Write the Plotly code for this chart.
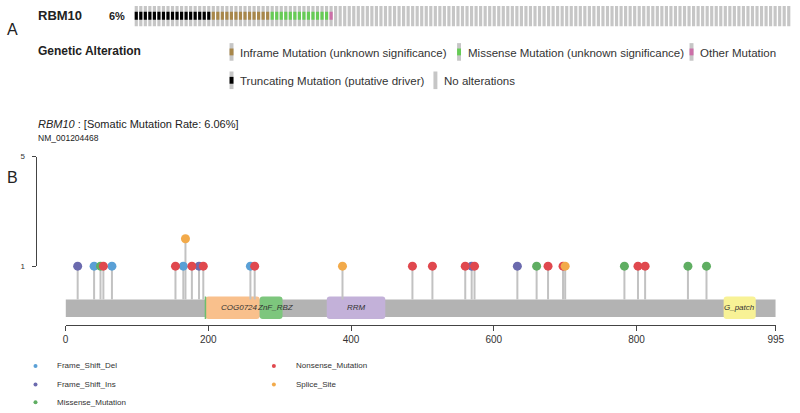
import plotly.graph_objects as go

W, H = 800, 413

# ---------------- data ----------------
gene = "RBM10"
altered_pct = "6%"
mutation_rate = "6.06%"
transcript = "NM_001204468"
protein_length = 995

# oncoprint strip (visible part): samples per alteration class, then unaltered
onco_classes = ["Truncating", "Inframe", "Missense", "Other"]
onco_counts = [17, 13, 13, 1]
onco_visible_samples = 145

onco_legend_labels = ["Inframe Mutation (unknown significance)",
                      "Missense Mutation (unknown significance)",
                      "Other Mutation",
                      "Truncating Mutation (putative driver)",
                      "No alterations"]

domain_names = ["COG0724", "ZnF_RBZ", "RRM", "G_patch"]
domain_start = [196, 272, 366, 922]
domain_end = [272, 304, 448, 967]

mut_pos = [17, 40, 49, 53, 65, 154, 165, 168, 177, 187, 193, 259, 265,
           388, 486, 514, 560, 569, 573, 633, 660, 676, 697, 700,
           783, 802, 812, 872, 898]
mut_type = ["Frame_Shift_Ins", "Frame_Shift_Del", "Missense_Mutation", "Nonsense_Mutation",
            "Frame_Shift_Del", "Nonsense_Mutation", "Frame_Shift_Del", "Splice_Site",
            "Nonsense_Mutation", "Frame_Shift_Ins", "Nonsense_Mutation", "Frame_Shift_Del",
            "Nonsense_Mutation", "Splice_Site", "Nonsense_Mutation", "Nonsense_Mutation",
            "Nonsense_Mutation", "Frame_Shift_Ins", "Nonsense_Mutation", "Frame_Shift_Ins",
            "Missense_Mutation", "Nonsense_Mutation", "Nonsense_Mutation", "Splice_Site",
            "Missense_Mutation", "Nonsense_Mutation", "Nonsense_Mutation", "Missense_Mutation",
            "Missense_Mutation"]
mut_count = [1, 1, 1, 1, 1, 1, 1, 2, 1, 1, 1, 1, 1,
             1, 1, 1, 1, 1, 1, 1, 1, 1, 1, 1,
             1, 1, 1, 1, 1]

type_order = ["Frame_Shift_Del", "Frame_Shift_Ins", "Missense_Mutation",
              "Nonsense_Mutation", "Splice_Site"]

x_ticks = [0, 200, 400, 600, 800, 995]
y_ticks = [1, 5]

# ---------------- styles ----------------
FONT = "Liberation Sans, Arial, Helvetica, sans-serif"
TXT = "#222222"
onco_colors = {"Truncating": "#000000", "Inframe": "#A8874A",
               "Missense": "#66CC55", "Other": "#CC6FA8"}
onco_gray = "#C6C6C6"
type_colors = {"Frame_Shift_Del": "#5AA0D6", "Frame_Shift_Ins": "#6B6AAE",
               "Missense_Mutation": "#5FAE62", "Nonsense_Mutation": "#E0484E",
               "Splice_Site": "#F2AA4A"}
domain_colors = {"COG0724": "#F9C08C", "ZnF_RBZ": "#7DC67D",
                 "RRM": "#C3B1D9", "G_patch": "#F8F296"}
domain_label_shift = {"COG0724": 7, "ZnF_RBZ": 4, "RRM": 0, "G_patch": 0}


def px(x):
    return x / W


def py(y):
    return 1 - y / H


# data y-axis: count c drawn at pixel 296 - 28*c
Y0_PX, Y_UNIT = 296.0, 28.0
def cnt(ypix):
    return (Y0_PX - ypix) / Y_UNIT

bar_top, bar_bot = cnt(302), cnt(320)
dom_top, dom_bot = cnt(299), cnt(322)

fig = go.Figure()

# ---------------- oncoprint strip ----------------
idx = list(range(onco_visible_samples))
fig.add_trace(go.Bar(x=idx, y=[1.0] * len(idx), base=[0.0] * len(idx), width=0.7,
                     marker=dict(color=onco_gray, line=dict(width=0)),
                     xaxis="x3", yaxis="y3", showlegend=False, hoverinfo="skip"))
start = 0
inner_base = (23 - 16) / 21.0
inner_h = (16 - 8) / 21.0
for cls, n in zip(onco_classes, onco_counts):
    xs = list(range(start, start + n))
    fig.add_trace(go.Bar(x=xs, y=[inner_h] * n, base=[inner_base] * n, width=0.7,
                         marker=dict(color=onco_colors[cls], line=dict(width=0)),
                         xaxis="x3", yaxis="y3", showlegend=False, hoverinfo="skip"))
    start += n

# ---------------- protein bar & domains ----------------
fig.add_trace(go.Bar(orientation="h", y=[(bar_top + bar_bot) / 2], x=[protein_length],
                     base=[0], width=[bar_top - bar_bot],
                     marker=dict(color="#B3B3B3", line=dict(width=0)),
                     showlegend=False, hoverinfo="skip"))
for name, s, e in zip(domain_names, domain_start, domain_end):
    fig.add_trace(go.Bar(orientation="h", y=[(dom_top + dom_bot) / 2], x=[e - s],
                         base=[s], width=[dom_top - dom_bot],
                         marker=dict(color=domain_colors[name], line=dict(width=0),
                                     cornerradius=3),
                         showlegend=False, hoverinfo="skip"))
    fig.add_annotation(x=(s + e) / 2, y=(dom_top + dom_bot) / 2, xref="x", yref="y",
                       text="<i>%s</i>" % name, showarrow=False, xshift=domain_label_shift[name],
                       font=dict(family=FONT, size=8, color="#333333"))

# thin green sliver at domain start
fig.add_trace(go.Scatter(x=[domain_start[0], domain_start[0]], y=[dom_top, dom_bot],
                         mode="lines", line=dict(color="#6DBE6D", width=1.5),
                         showlegend=False, hoverinfo="skip"))

# ---------------- lollipops ----------------
sx, sy = [], []
for p, c in zip(mut_pos, mut_count):
    sx += [p, p, None]
    sy += [bar_top, c, None]
fig.add_trace(go.Scatter(x=sx, y=sy, mode="lines", line=dict(color="#C2C2C2", width=2),
                         showlegend=False, hoverinfo="skip"))
for t in type_order:
    xs = [p for p, tt in zip(mut_pos, mut_type) if tt == t]
    ys = [c for c, tt in zip(mut_count, mut_type) if tt == t]
    fig.add_trace(go.Scatter(x=xs, y=ys, mode="markers", name=t,
                             marker=dict(color=type_colors[t], size=9, line=dict(width=0)),
                             showlegend=False))

# dummy trace to bind display y-axis
fig.add_trace(go.Scatter(x=[None], y=[None], xaxis="x", yaxis="y2",
                         showlegend=False, hoverinfo="skip"))

# ---------------- bottom legend ----------------
leg_pos = {"Frame_Shift_Del": (33, 370), "Frame_Shift_Ins": (33, 389),
           "Missense_Mutation": (33, 407), "Nonsense_Mutation": (275, 370),
           "Splice_Site": (275, 389)}
fig.add_trace(go.Scatter(x=[leg_pos[t][0] for t in type_order],
                         y=[leg_pos[t][1] for t in type_order],
                         mode="markers", xaxis="x4", yaxis="y4",
                         marker=dict(color=[type_colors[t] for t in type_order], size=4),
                         showlegend=False, hoverinfo="skip"))
for t in type_order:
    x0, y0 = leg_pos[t]
    fig.add_annotation(x=px(x0 + 20), y=py(y0), xref="paper", yref="paper", text=t,
                       showarrow=False, xanchor="left", yanchor="middle",
                       font=dict(family=FONT, size=8, color="#333333"))

# ---------------- Part A texts & legend ----------------
def ann(x, y, text, size, bold=False, color=TXT, anchor="left"):
    fig.add_annotation(x=px(x), y=py(y), xref="paper", yref="paper",
                       text=("<b>%s</b>" % text) if bold else text, showarrow=False,
                       xanchor=anchor, yanchor="middle",
                       font=dict(family=FONT, size=size, color=color))

ann(2, 26, "A", 16)
ann(34, 12, gene, 13, bold=True)
ann(106, 12, altered_pct, 11, bold=True)
ann(34, 48, "Genetic Alteration", 12, bold=True)

sw = [(230, 49, onco_colors["Inframe"]), (461, 49, onco_colors["Missense"]),
      (697, 49, onco_colors["Other"]), (230, 78, onco_colors["Truncating"]),
      (437, 78, None)]
for (x0, yc, col), lab in zip(sw, onco_legend_labels):
    fig.add_shape(type="rect", xref="paper", yref="paper", x0=px(x0), x1=px(x0 + 4),
                  y0=py(yc + 9), y1=py(yc - 9), fillcolor=onco_gray, line=dict(width=0))
    if col:
        fig.add_shape(type="rect", xref="paper", yref="paper", x0=px(x0), x1=px(x0 + 4),
                      y0=py(yc + 3.5), y1=py(yc - 3.5), fillcolor=col, line=dict(width=0))
    ann(x0 + 9, yc + 1, lab, 11.5, color="#333333")

# ---------------- Part B header ----------------
ann(34, 123, "<i>%s</i> : [Somatic Mutation Rate: %s]" % (gene, mutation_rate), 11)
ann(34, 137, transcript, 8.5)
ann(2, 177, "B", 16)

# ---------------- layout ----------------
fig.update_layout(
    width=W, height=H, autosize=False,
    margin=dict(l=0, r=0, t=0, b=0),
    paper_bgcolor="white", plot_bgcolor="rgba(0,0,0,0)",
    barmode="overlay", showlegend=False,
    font=dict(family=FONT, color=TXT),
    xaxis=dict(domain=[px(63.5), px(784.5)], range=[0, protein_length], anchor="y",
               tickvals=x_ticks, ticktext=[str(v) for v in x_ticks],
               showline=True, linecolor="#444444", linewidth=1,
               ticks="outside", ticklen=5, tickcolor="#444444", tickwidth=1,
               tickfont=dict(family=FONT, size=10, color="#333333"),
               showgrid=False, zeroline=False, fixedrange=True),
    yaxis=dict(domain=[py(328), py(150)], range=[cnt(328), cnt(150)],
               visible=False, showgrid=False, zeroline=False, fixedrange=True),
    yaxis2=dict(domain=[py(Y0_PX - Y_UNIT * y_ticks[0]), py(Y0_PX - Y_UNIT * y_ticks[-1])],
                range=[y_ticks[0], y_ticks[-1]], anchor="free", position=px(34),
                tickvals=y_ticks, showline=True, linecolor="#444444", linewidth=1,
                ticks="outside", ticklen=4, tickcolor="#444444",
                ticklabelstandoff=6,
                tickfont=dict(family=FONT, size=8, color="#333333"),
                showgrid=False, zeroline=False, fixedrange=True),
    xaxis3=dict(domain=[px(133), 1], range=[-0.5, onco_visible_samples - 0.5],
                anchor="y3", visible=False, fixedrange=True),
    yaxis3=dict(domain=[py(23), py(2)], range=[0, 1], anchor="x3",
                visible=False, fixedrange=True),
    xaxis4=dict(domain=[0, 1], range=[0, W], anchor="y4", visible=False, fixedrange=True),
    yaxis4=dict(domain=[0, 1], range=[H, 0], anchor="x4", visible=False, fixedrange=True),
)

fig.write_html("out.html",
               config={"displayModeBar": False, "responsive": False},
               post_script="document.body.style.margin='0px';"
                           "document.body.style.overflow='hidden';")
